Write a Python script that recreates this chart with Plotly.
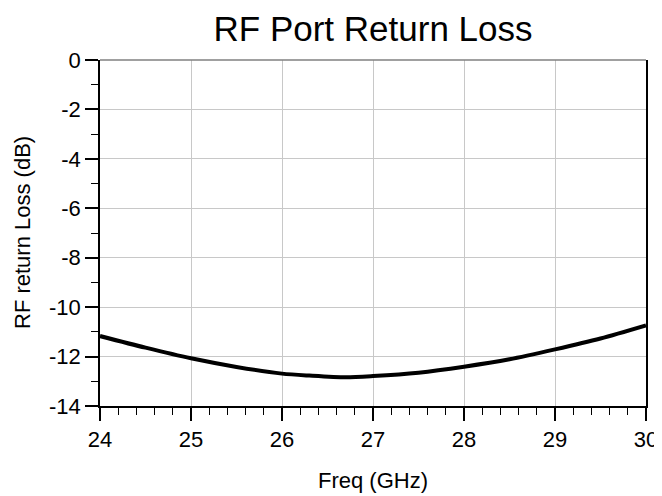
import plotly.graph_objects as go

freq_ghz = [24.0, 24.5, 25.0, 25.5, 26.0, 26.3, 26.7, 27.0, 27.5, 28.0, 28.5, 29.0, 29.5, 30.0]
return_loss_db = [-11.17, -11.64, -12.07, -12.42, -12.69, -12.77, -12.84, -12.79, -12.65, -12.41, -12.11, -11.71, -11.27, -10.74]

x_ticks = [24, 25, 26, 27, 28, 29, 30]
y_ticks = [0, -2, -4, -6, -8, -10, -12, -14]

font_family = "Liberation Sans, Arial, sans-serif"

fig = go.Figure()
fig.add_trace(go.Scatter(
    x=freq_ghz, y=return_loss_db, mode="lines",
    line=dict(color="black", width=4, shape="spline", smoothing=0.8),
    showlegend=False, hoverinfo="x+y",
))

# page body has an 8px default margin, so the figure is 8px smaller and margins shifted
fig.update_layout(
    width=654, height=488,
    margin=dict(l=92, r=16, t=52, b=90, autoexpand=False),
    paper_bgcolor="white", plot_bgcolor="white",
    title=dict(text="RF Port Return Loss", x=0.5, xref="paper", xanchor="center",
               y=0.958, yref="container", yanchor="middle",
               font=dict(family=font_family, size=35, color="black")),
    font=dict(family=font_family, size=22, color="black"),
)

fig.update_xaxes(
    range=[24, 30], tickvals=x_ticks, ticktext=[str(v) for v in x_ticks],
    showgrid=True, gridcolor="#c8c8c8", gridwidth=1,
    showline=True, linecolor="black", linewidth=1.5,
    ticks="outside", ticklen=13, tickwidth=1.5, tickcolor="black",
    minor=dict(dtick=0.2, ticks="outside", ticklen=7, tickwidth=1.2, tickcolor="black", showgrid=False),
    zeroline=False, automargin=False,
    tickfont=dict(size=22),
)
fig.update_yaxes(
    range=[-14, 0], tickvals=y_ticks, ticktext=[str(v) for v in y_ticks],
    showgrid=True, gridcolor="#c8c8c8", gridwidth=1,
    showline=True, linecolor="black", linewidth=1.5, mirror=True,
    ticks="outside", ticklen=13, tickwidth=1.5, tickcolor="black",
    minor=dict(dtick=1, ticks="outside", ticklen=7, tickwidth=1.2, tickcolor="black", showgrid=False),
    zeroline=False, automargin=False,
    tickfont=dict(size=22),
)

fig.add_shape(type="line", xref="paper", yref="paper", x0=0, x1=1, y0=1, y1=1,
              line=dict(color="#808080", width=1.5), layer="above")

fig.add_annotation(text="Freq (GHz)", xref="paper", yref="paper", x=0.5, y=0,
                   yshift=-74, xanchor="center", yanchor="middle", showarrow=False,
                   font=dict(family=font_family, size=22, color="black"))
fig.add_annotation(text="RF return Loss (dB)", xref="paper", yref="paper", x=0, y=0.5,
                   xshift=-78, xanchor="center", yanchor="middle", textangle=-90, showarrow=False,
                   font=dict(family=font_family, size=22, color="black"))

fig.write_html("out.html")
